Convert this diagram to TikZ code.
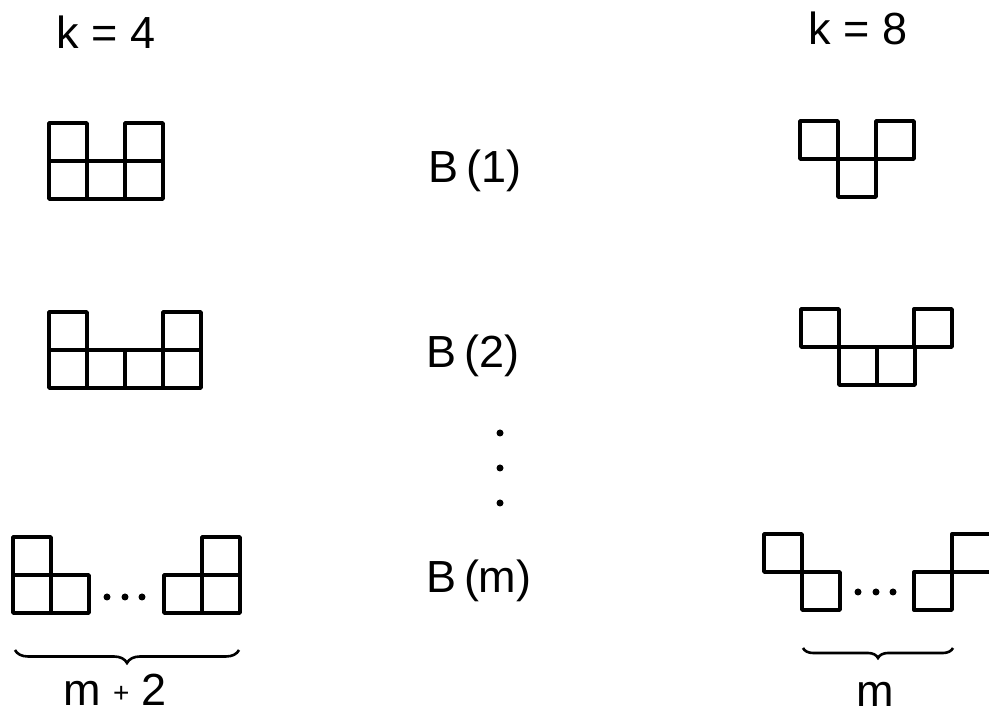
\documentclass[tikz,border=0pt]{standalone}
\usepackage{fontspec}
\setmainfont{Liberation Sans}
\usepackage{tikz}
\usetikzlibrary{decorations.pathreplacing, positioning}
\tikzset{
    cell/.style = {line width=3.4pt, line join=round},
    lab/.style = {anchor=base, inner sep=0pt, font=\fontsize{45}{50}\selectfont},
    brace/.style = {decorate, decoration={brace, mirror, amplitude=#1}, line width=2.6pt},
    dot/.style = {circle, fill, inner sep=0pt, minimum size=7pt}
    }

\begin{document}
\begin{tikzpicture}[
      x = 1pt, y = 1pt, % one unit per pixel of the scan
      semithick
    ]
    \useasboundingbox (0,0) rectangle (989,717);

    \node[lab] (1) at (106,668) {k = 4};
    \node[lab] (2) at (858,672) {k = 8};

    \node[lab] (3) at (475,534) {B\,(1)};
    \node[lab] (4) at (473,349) {B\,(2)};
    \node[lab] (5) at (479,124) {B\,(m)};

    \node[dot] (6) at (500,284) {};
    \node[dot] (7) at (500,249) {};
    \node[dot] (8) at (500,214) {};

    % k = 4
    \draw[cell] (49,518) rectangle +(38,38);
    \draw[cell] (87,518) rectangle +(38,38);
    \draw[cell] (125,518) rectangle +(38,38);
    \draw[cell] (49,556) rectangle +(38,38);
    \draw[cell] (125,556) rectangle +(38,38);

    \draw[cell] (49,329) rectangle +(38,38);
    \draw[cell] (87,329) rectangle +(38,38);
    \draw[cell] (125,329) rectangle +(38,38);
    \draw[cell] (163,329) rectangle +(38,38);
    \draw[cell] (49,367) rectangle +(38,38);
    \draw[cell] (163,367) rectangle +(38,38);

    \draw[cell] (13,104) rectangle +(38,38);
    \draw[cell] (51,104) rectangle +(38,38);
    \draw[cell] (13,142) rectangle +(38,38);
    \draw[cell] (164,104) rectangle +(38,38);
    \draw[cell] (202,104) rectangle +(38,38);
    \draw[cell] (202,142) rectangle +(38,38);

    \node[dot] (9) at (107,120) {};
    \node[dot] (10) at (125,120) {};
    \node[dot] (11) at (142,120) {};

    % k = 8
    \draw[cell] (800,558) rectangle +(38,38);
    \draw[cell] (876,558) rectangle +(38,38);
    \draw[cell] (838,520) rectangle +(38,38);

    \draw[cell] (801,370) rectangle +(38,38);
    \draw[cell] (914,370) rectangle +(38,38);
    \draw[cell] (839,332) rectangle +(38,38);
    \draw[cell] (877,332) rectangle +(38,38);

    \draw[cell] (764,145) rectangle +(38,38);
    \draw[cell] (802,107) rectangle +(38,38);
    \draw[cell] (914,107) rectangle +(38,38);
    \draw[cell] (952,145) rectangle +(40,38);

    \node[dot] (12) at (858,125) {};
    \node[dot] (13) at (876,125) {};
    \node[dot] (14) at (893,125) {};

    \draw[brace=13pt] (15,67) -- (239,67);
    \draw[brace=10pt] (803,69) -- (953,69);

    \node[lab] (15) at (115,11) {m \raisebox{3pt}{\fontsize{28}{30}\selectfont+} 2};
    \node[lab] (16) at (875,10) {m};
\end{tikzpicture}
\end{document}
